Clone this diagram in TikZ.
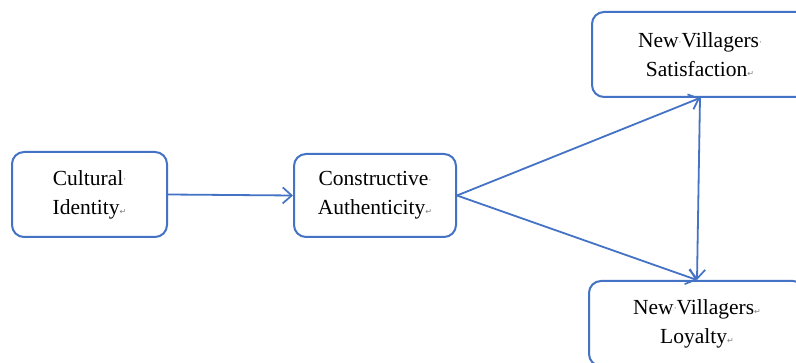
\documentclass[tikz,border=0pt]{standalone}
\usepackage{fontspec}
\setmainfont{Liberation Serif}
\newfontfamily\symfont{DejaVu Sans}
\usetikzlibrary{arrows.meta}
\definecolor{lineblue}{HTML}{4472C4}
\newcommand{\spmark}{{\fontsize{9}{9}\selectfont\color{gray}\raisebox{0.55ex}{\symfont ·}}}
\newcommand{\parmark}{{\fontsize{8}{8}\selectfont\color{gray}\symfont ↵}}
\tikzset{
  box/.style={draw=lineblue, line width=2pt, rounded corners=12pt, fill=white,
    align=center, inner sep=0pt, font=\fontsize{21.5}{29}\selectfont},
  link/.style={draw=lineblue, line width=1.8pt, -{Straight Barb[length=9pt,width=16pt,line width=1.7pt]}}
}
\begin{document}
\begin{tikzpicture}[x=1pt,y=-1pt]
\useasboundingbox (0,0) rectangle (796,363);
\clip (0,0) rectangle (796,363);
\fill[white] (0,0) rectangle (796,363);
\node[box, minimum width=155pt, minimum height=85pt] (cult) at (89.5,194.5)
  {Cultural\spmark\\Identity\parmark};
\node[box, minimum width=162pt, minimum height=83pt] (cons) at (375,195.5)
  {Constructive\spmark\\Authenticity\parmark};
\node[box, minimum width=216pt, minimum height=85pt] (sat) at (700,54.5)
  {New\spmark Villagers\spmark\\Satisfaction\parmark};
\node[box, minimum width=216pt, minimum height=85pt] (loy) at (697,323.5)
  {New\spmark Villagers\parmark\\Loyalty\parmark};
\draw[link] (cult.east) -- (cons.west);
\draw[link] (cons.east) -- (sat.south);
\draw[link] (cons.east) -- (loy.north);
\draw[link] (sat.south) -- (loy.north);
\end{tikzpicture}
\end{document}
